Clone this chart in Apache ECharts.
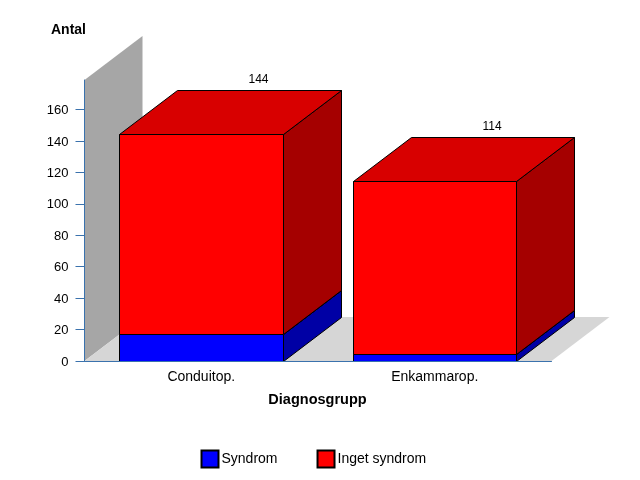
<!DOCTYPE html>
<html>
<head>
<meta charset="utf-8">
<style>html,body{margin:0;padding:0;background:#fff}#c{width:640px;height:480px}</style>
<script src="https://cdn.jsdelivr.net/npm/echarts@6/dist/echarts.min.js"></script>
</head>
<body>
<div id="c"></div>
<script>
const categories = ['Conduitop.', 'Enkammarop.'];
const syndrom = [17, 4];
const ingetSyndrom = [127, 110];
const yTicks = [0, 20, 40, 60, 80, 100, 120, 140, 160];
const yMax = 178.8;

const DX = 58, DY = -44, FONT = '"Liberation Sans", Arial, sans-serif';
const snap = v => Math.floor(v) + 0.5;
const chart = echarts.init(document.getElementById('c'), null, {renderer: 'canvas'});

function poly(points, fill, stroke) {
  return {type: 'polygon', shape: {points}, style: {fill, stroke: stroke || null, lineWidth: 1, lineJoin: 'miter'}};
}

function backdrop(params, api) {
  const g = params.coordSys;
  const l = g.x, r = g.x + g.width, t = g.y, b = g.y + g.height;
  return {type: 'group', children: [
    poly([[l, t], [l + DX, t + DY], [l + DX, b + DY], [l, b]], '#a6a6a6'),
    poly([[l, b], [l + DX, b + DY], [r + DX, b + DY], [r, b]], '#d6d6d6')
  ]};
}

function boxRenderer(front, top, side, showTotal) {
  return function (params, api) {
    const i = api.value(0), base = api.value(1), end = api.value(2);
    const c0 = api.coord([i, base]), c1 = api.coord([i, end]);
    const w = api.size([1, 0])[0] * 0.7;
    const x0 = snap(c0[0] - w / 2), x1 = Math.round(c0[0] + w / 2) + 0.5;
    const yb = snap(c0[1]), yt = snap(c1[1]);
    const children = [
      poly([[x1, yb], [x1 + DX, yb + DY], [x1 + DX, yt + DY], [x1, yt]], side, '#000'),
      poly([[x0, yt], [x0 + DX, yt + DY], [x1 + DX, yt + DY], [x1, yt]], top, '#000'),
      poly([[x0, yb], [x1, yb], [x1, yt], [x0, yt]], front, '#000')
    ];
    if (showTotal) {
      children.push({type: 'text', style: {
        x: (x0 + x1) / 2 + DX - 1, y: yt + DY - 11,
        text: String(end), fill: '#000', font: '12px ' + FONT, align: 'center', verticalAlign: 'middle'
      }});
    }
    return {type: 'group', children};
  };
}

const syndromData = categories.map((_, i) => [i, 0, syndrom[i]]);
const ingetData = categories.map((_, i) => [i, syndrom[i], syndrom[i] + ingetSyndrom[i]]);

chart.setOption({
  animation: false,
  backgroundColor: '#fff',
  textStyle: {fontFamily: FONT},
  grid: {left: 84.5, top: 80, width: 467, height: 281, containLabel: false},
  xAxis: {
    type: 'category', data: categories, z: 10,
    name: 'Diagnosgrupp', nameLocation: 'middle', nameGap: 31,
    nameTextStyle: {fontWeight: 'bold', fontSize: 14.5, color: '#000', fontFamily: FONT, padding: [0, 1, 0, 0]},
    axisLine: {lineStyle: {color: '#3a72ad', width: 1}},
    axisTick: {show: false},
    axisLabel: {color: '#000', fontSize: 14, margin: 9, fontFamily: FONT}
  },
  yAxis: {
    type: 'value', min: 0, max: yMax, z: 10,
    name: 'Antal', nameLocation: 'end', nameGap: 43,
    nameTextStyle: {fontWeight: 'bold', fontSize: 14, color: '#000', fontFamily: FONT, align: 'center', padding: [0, 32, 0, 0]},
    axisLine: {show: true, lineStyle: {color: '#3a72ad', width: 1}},
    axisTick: {show: true, length: 9, customValues: yTicks, lineStyle: {color: '#3a72ad', width: 1}},
    axisLabel: {color: '#000', fontSize: 13, margin: 16, fontFamily: FONT, customValues: yTicks, verticalAlign: 'top', lineHeight: 2},
    splitLine: {show: false}
  },
  legend: {
    left: 200.5, top: 449.5, padding: 0, itemWidth: 17, itemHeight: 17, itemGap: 39, icon: 'rect',
    selectedMode: false,
    data: ['Syndrom', 'Inget syndrom'],
    textStyle: {color: '#000', fontSize: 14, fontFamily: FONT, padding: [0, 0, 0, -2], verticalAlign: 'top', lineHeight: 2}
  },
  series: [
    {type: 'custom', name: 'backdrop', silent: true, z: 1, data: [[0, 0, 0]], renderItem: backdrop,
     encode: {x: 0, y: 1}},
    {type: 'custom', name: 'Syndrom', z: 2, data: syndromData,
     itemStyle: {color: '#0000ff', borderColor: '#000', borderWidth: 1},
     encode: {x: 0, y: [1, 2]}, renderItem: boxRenderer('#0000ff', '#0000d8', '#0000a5', false)},
    {type: 'custom', name: 'Inget syndrom', z: 3, data: ingetData,
     itemStyle: {color: '#ff0000', borderColor: '#000', borderWidth: 1},
     encode: {x: 0, y: [1, 2]}, renderItem: boxRenderer('#ff0000', '#d80000', '#a50000', true)}
  ]
});
</script>
</body>
</html>
